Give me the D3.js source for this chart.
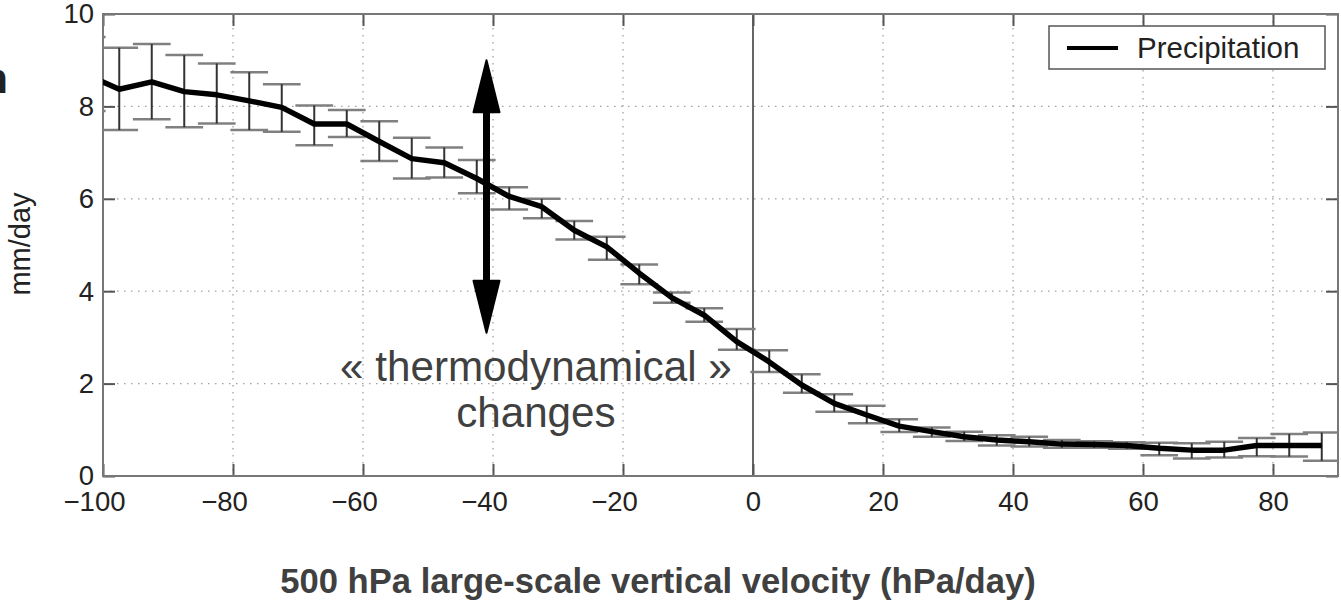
<!DOCTYPE html>
<html>
<head>
<meta charset="utf-8">
<script src="https://cdn.jsdelivr.net/npm/d3@7"></script>
<style>
  html, body { margin: 0; padding: 0; background: #fff; }
  svg { display: block; }
  text { font-family: "Liberation Sans", Arial, sans-serif; }
</style>
</head>
<body>
<svg id="chart" width="1341" height="603"></svg>
<script>
// ---- data ----
const omega = [-102.5, -97.5, -92.5, -87.5, -82.5, -77.5, -72.5, -67.5, -62.5, -57.5,
  -52.5, -47.5, -42.5, -37.5, -32.5, -27.5, -22.5, -17.5, -12.5, -7.5,
  -2.5, 2.5, 7.5, 12.5, 17.5, 22.5, 27.5, 32.5, 37.5, 42.5,
  47.5, 52.5, 57.5, 62.5, 67.5, 72.5, 77.5, 82.5, 87.5];
const precip = [8.69, 8.37, 8.53, 8.32, 8.25, 8.12, 7.98, 7.62, 7.62, 7.24,
  6.87, 6.78, 6.44, 6.05, 5.83, 5.32, 4.96, 4.39, 3.86, 3.48,
  2.91, 2.47, 1.97, 1.57, 1.32, 1.08, 0.96, 0.85, 0.78, 0.74,
  0.69, 0.68, 0.66, 0.60, 0.56, 0.56, 0.66, 0.66, 0.66];
const precipUpper = [9.50, 9.27, 9.35, 9.11, 8.93, 8.74, 8.48, 8.02, 7.92, 7.68,
  7.32, 7.11, 6.84, 6.25, 6.00, 5.52, 5.18, 4.58, 3.97, 3.63,
  3.18, 2.72, 2.20, 1.77, 1.52, 1.23, 1.05, 0.96, 0.88, 0.85,
  0.78, 0.75, 0.73, 0.72, 0.71, 0.74, 0.82, 0.91, 0.94];
const precipLower = [7.90, 7.49, 7.72, 7.55, 7.63, 7.49, 7.45, 7.16, 7.34, 6.82,
  6.44, 6.46, 6.12, 5.77, 5.58, 5.12, 4.68, 4.15, 3.75, 3.34,
  2.73, 2.25, 1.80, 1.39, 1.14, 0.95, 0.85, 0.76, 0.66, 0.64,
  0.61, 0.61, 0.59, 0.45, 0.38, 0.40, 0.43, 0.42, 0.33];
const xTicks = [-100, -80, -60, -40, -20, 0, 20, 40, 60, 80];
const yTicks = [0, 2, 4, 6, 8, 10];
const seriesName = "Precipitation";
const xTitle = "500 hPa large-scale vertical velocity (hPa/day)";
const yTitle = "mm/day";
const noteLines = ["« thermodynamical »", "changes"];
const noteX = -33.4;
const noteY = [2.06, 1.07];
const arrowX = -41;
const arrowY = [3.1, 9.0];

// ---- layout ----
const svg = d3.select("#chart");
const L = 103, R = 1338, T = 14, B = 476;
const x = d3.scaleLinear().domain([-100, 90]).range([L, R]);
const y = d3.scaleLinear().domain([0, 10]).range([B, T]);

svg.append("defs").append("clipPath").attr("id", "plotclip")
  .append("rect").attr("x", L).attr("y", T).attr("width", R - L).attr("height", B - T);

// grid
const grid = svg.append("g");
grid.selectAll("line.gx").data(xTicks.filter(d => d !== 0 && d !== -100)).join("line")
  .attr("x1", d => x(d)).attr("x2", d => x(d)).attr("y1", T).attr("y2", B)
  .attr("stroke", "#a0a0a0").attr("stroke-width", 1.3).attr("stroke-dasharray", "1.5,5.5");
grid.selectAll("line.gy").data(yTicks.filter(d => d !== 0 && d !== 10)).join("line")
  .attr("y1", d => y(d)).attr("y2", d => y(d)).attr("x1", L).attr("x2", R)
  .attr("stroke", "#a0a0a0").attr("stroke-width", 1.3).attr("stroke-dasharray", "1.5,5.5");

// zero line
svg.append("line").attr("x1", x(0)).attr("x2", x(0)).attr("y1", T).attr("y2", B)
  .attr("stroke", "#666").attr("stroke-width", 2);

// axes
const fmt = d3.format("d");
const axB = svg.append("g").attr("transform", `translate(0,${B})`)
  .call(d3.axisBottom(x).tickValues(xTicks).tickFormat(fmt).tickSizeInner(-12).tickSizeOuter(0).tickPadding(15));
const axL = svg.append("g").attr("transform", `translate(${L},0)`)
  .call(d3.axisLeft(y).tickValues(yTicks).tickFormat(fmt).tickSizeInner(-12).tickSizeOuter(0).tickPadding(9));
const axT = svg.append("g").attr("transform", `translate(0,${T})`)
  .call(d3.axisTop(x).tickValues(xTicks).tickFormat("").tickSizeInner(-12).tickSizeOuter(0));
const axR = svg.append("g").attr("transform", `translate(${R},0)`)
  .call(d3.axisRight(y).tickValues(yTicks).tickFormat("").tickSizeInner(-12).tickSizeOuter(0));
[axB, axL, axT, axR].forEach(a => {
  a.select(".domain").remove();
  a.selectAll(".tick line").attr("stroke", "#555").attr("stroke-width", 2);
  a.selectAll(".tick text").attr("fill", "#222").attr("font-size", 27.5);
});
// digits centred on the tick, minus sign hanging to the left (as in the original)
axB.selectAll(".tick text").attr("dx", d => d < 0 ? -9 : 0);

// box
svg.append("rect").attr("x", L).attr("y", T).attr("width", R - L).attr("height", B - T)
  .attr("fill", "none").attr("stroke", "#777").attr("stroke-width", 2);

// error bars
const data = omega.map((o, i) => ({ o, v: precip[i], hi: precipUpper[i], lo: precipLower[i] }));
const eb = svg.append("g").attr("clip-path", "url(#plotclip)");
const capHalf = (x(5) - x(0)) * 0.58;
eb.selectAll("line.cap-hi").data(data).join("line")
  .attr("x1", d => x(d.o) - capHalf).attr("x2", d => x(d.o) + capHalf)
  .attr("y1", d => y(d.hi)).attr("y2", d => y(d.hi))
  .attr("stroke", "#808080").attr("stroke-width", 2.5);
eb.selectAll("line.cap-lo").data(data).join("line")
  .attr("x1", d => x(d.o) - capHalf).attr("x2", d => x(d.o) + capHalf)
  .attr("y1", d => y(d.lo)).attr("y2", d => y(d.lo))
  .attr("stroke", "#808080").attr("stroke-width", 2.5);
eb.selectAll("line.stem").data(data).join("line")
  .attr("x1", d => x(d.o)).attr("x2", d => x(d.o))
  .attr("y1", d => y(d.hi)).attr("y2", d => y(d.lo))
  .attr("stroke", "#333").attr("stroke-width", 2);

// main line
eb.append("path").datum(data)
  .attr("d", d3.line().x(d => x(d.o)).y(d => y(d.v)))
  .attr("fill", "none").attr("stroke", "#000").attr("stroke-width", 5.5).attr("stroke-linejoin", "round");

// legend
const lg = svg.append("g");
lg.append("rect").attr("x", 1049).attr("y", 26).attr("width", 276).attr("height", 43)
  .attr("fill", "#fff").attr("stroke", "#555").attr("stroke-width", 1.5);
lg.append("line").attr("x1", 1067).attr("x2", 1118).attr("y1", 48).attr("y2", 48)
  .attr("stroke", "#000").attr("stroke-width", 4);
lg.append("text").attr("x", 1137).attr("y", 58).attr("font-size", 29.5).attr("fill", "#222").text(seriesName);

// axis titles
svg.append("text").attr("x", 658).attr("y", 593).attr("text-anchor", "middle")
  .attr("font-size", 34.6).attr("font-weight", "bold").attr("fill", "#404040").text(xTitle);
svg.append("text").attr("transform", "translate(30,244) rotate(-90)").attr("text-anchor", "middle")
  .attr("font-size", 29).attr("fill", "#222").text(yTitle);

// clipped fragment at far left
svg.append("text").attr("x", 8).attr("y", 93).attr("text-anchor", "end")
  .attr("font-size", 42).attr("font-weight", "bold").attr("fill", "#222").text("n");

// annotation arrow (double headed)
const ax = x(arrowX), ay0 = y(arrowY[0]), ay1 = y(arrowY[1]);
const headL = 52, headW = 13;
svg.append("line").attr("x1", ax).attr("x2", ax).attr("y1", ay1 + headL - 4).attr("y2", ay0 - headL + 4)
  .attr("stroke", "#000").attr("stroke-width", 7);
svg.append("path").attr("fill", "#000").attr("stroke", "#000").attr("stroke-width", 2).attr("stroke-linejoin", "round")
  .attr("d", `M${ax},${ay1} L${ax - headW},${ay1 + headL} L${ax + headW},${ay1 + headL} Z`);
svg.append("path").attr("fill", "#000").attr("stroke", "#000").attr("stroke-width", 2).attr("stroke-linejoin", "round")
  .attr("d", `M${ax},${ay0} L${ax - headW},${ay0 - headL} L${ax + headW},${ay0 - headL} Z`);

// annotation text
svg.selectAll("text.note").data(noteLines).join("text").attr("class", "note")
  .attr("x", x(noteX)).attr("y", (d, i) => y(noteY[i])).attr("text-anchor", "middle")
  .attr("font-size", 42.2).attr("fill", "#404040").text(d => d);
</script>
</body>
</html>
